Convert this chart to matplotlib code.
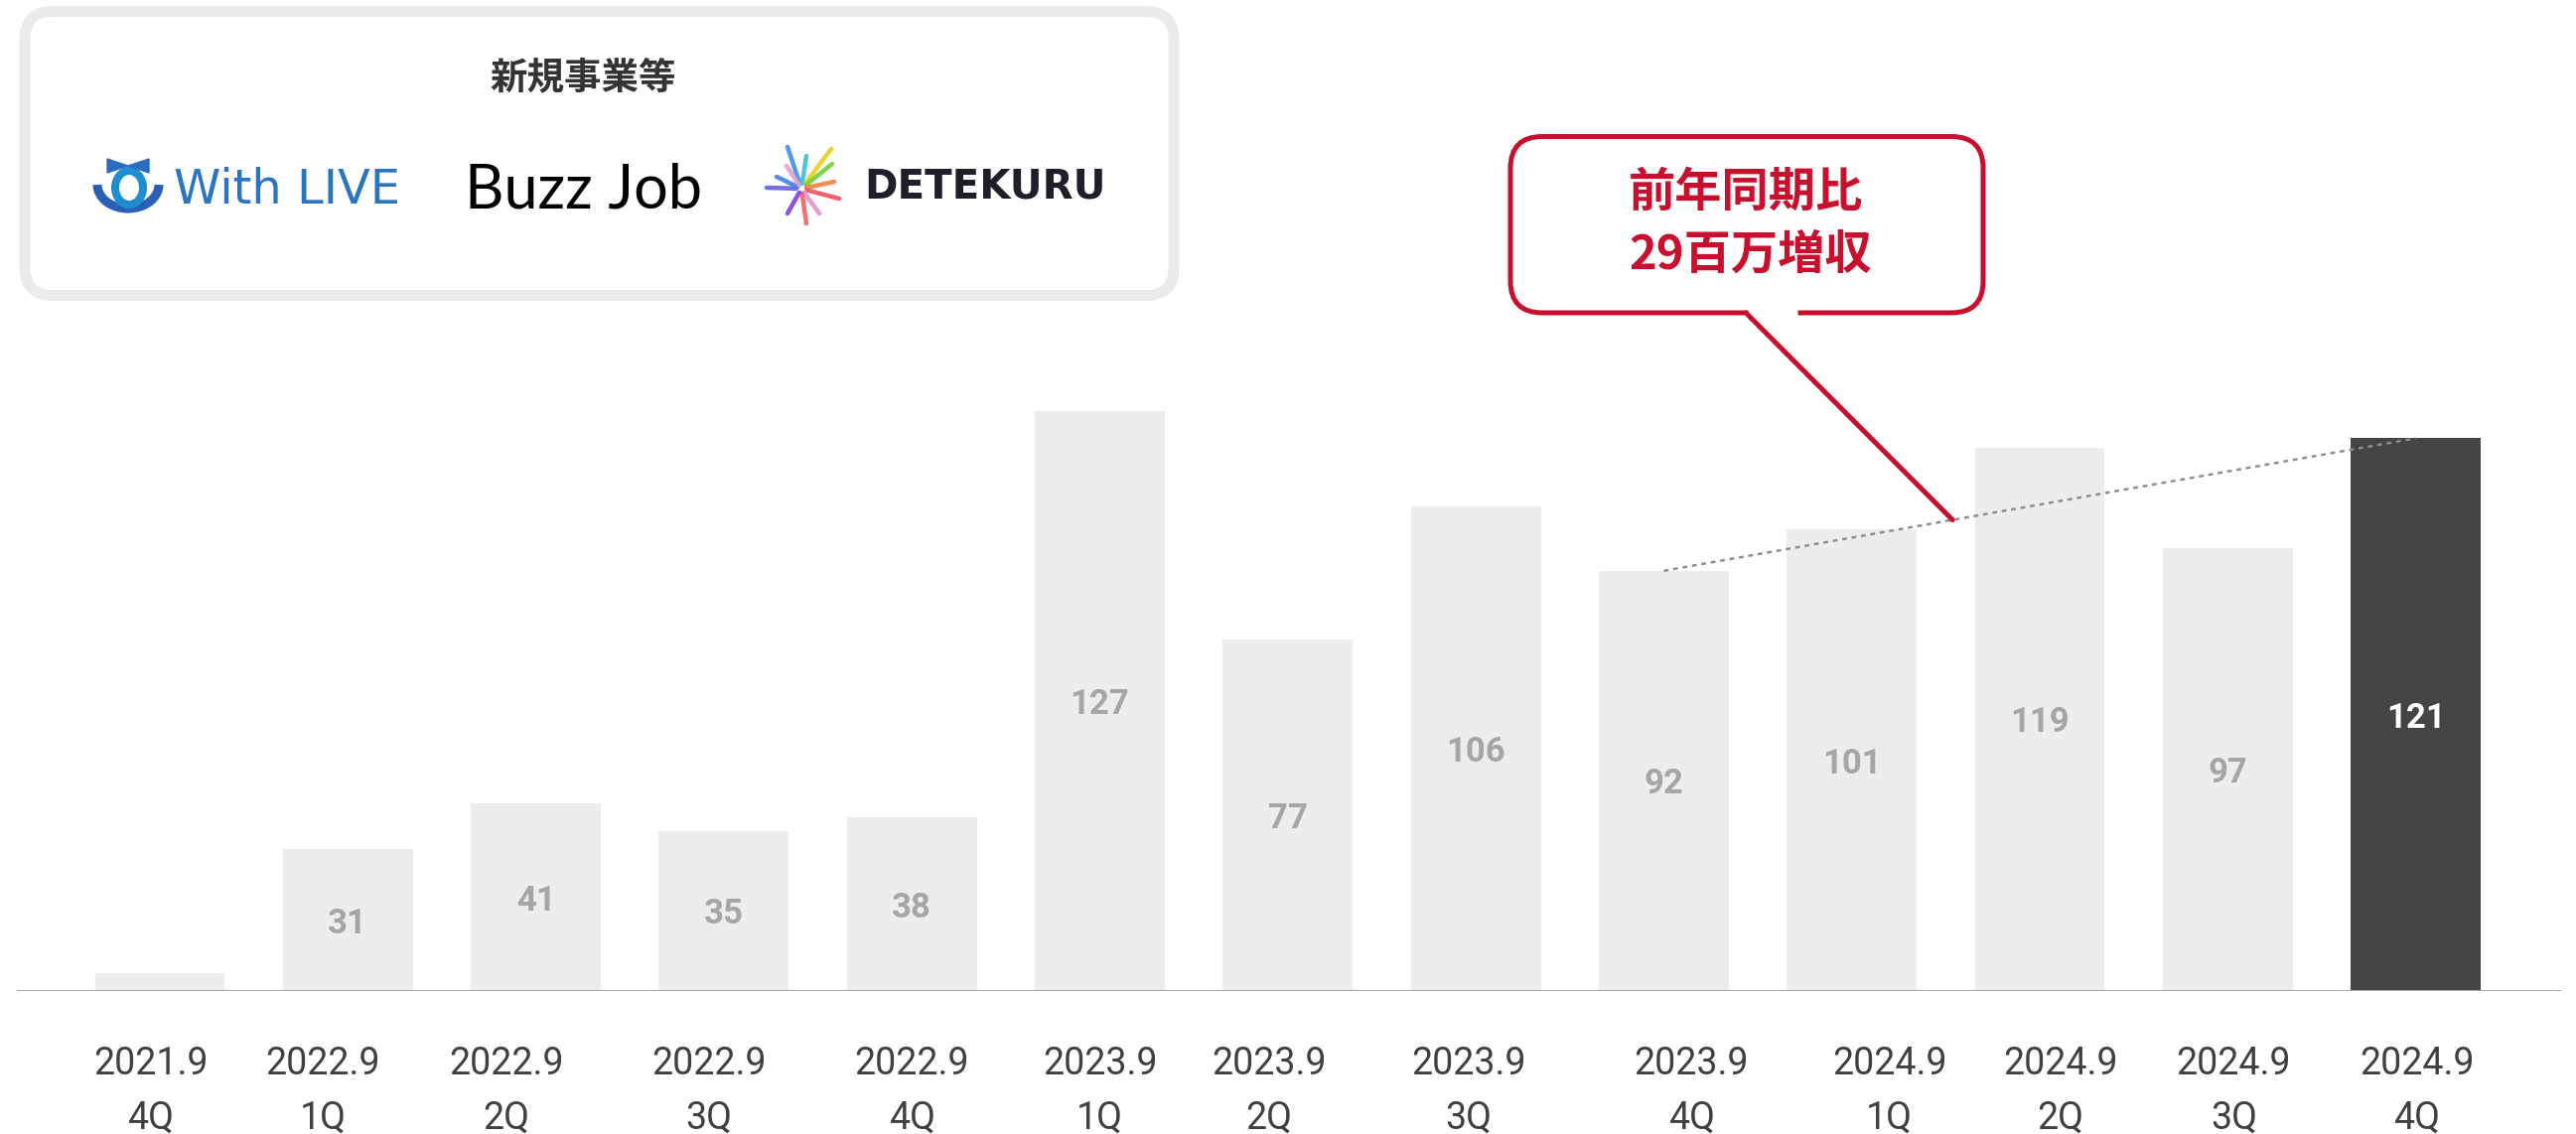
import matplotlib
matplotlib.use("Agg")
import matplotlib.pyplot as plt
from matplotlib.patches import FancyBboxPatch, Ellipse, Arc, Polygon
import numpy as np

# ---------------- data ----------------
periods = ["2021.9", "2022.9", "2022.9", "2022.9", "2022.9", "2023.9", "2023.9",
           "2023.9", "2023.9", "2024.9", "2024.9", "2024.9", "2024.9"]
quarters = ["4Q", "1Q", "2Q", "3Q", "4Q", "1Q", "2Q", "3Q", "4Q", "1Q", "2Q", "3Q", "4Q"]
values = [4, 31, 41, 35, 38, 127, 77, 106, 92, 101, 119, 97, 121]
value_labels = ["", "31", "41", "35", "38", "127", "77", "106", "92", "101", "119", "97", "121"]
highlight_index = 12
trend_from, trend_to = 8, 12
callout_lines = ["前年同期比", "29百万増収"]
legend_title = "新規事業等"
brand_names = ["With LIVE", "Buzz Job", "DETEKURU"]

# ---------------- style ----------------
W, H, DPI = 2594, 1142, 100
PT = 72.0 / DPI                       # points per pixel
tick_nudge_px = [-9, -25, -30, -15, 0, 0, -19, -7, 28, 38, 21, 6, 1]
RED = "#c8102e"
CJK = ["Noto Sans CJK JP", "DejaVu Sans"]

fig = plt.figure(figsize=(W / DPI, H / DPI), dpi=DPI, facecolor="white")

# main chart axes (baseline at 998 px from top)
base_px = 998
px_per_unit = 4.6
spacing, x0 = 189.3, 161.0
ax = fig.add_axes([0, (H - base_px) / H, 1, base_px / H])
ax.set_ylim(0, base_px / px_per_unit)
ax.set_xlim(-x0 / spacing, (W - x0) / spacing)
ax.axis("off")

xs = np.arange(len(values))
colors = ["#ededed"] * len(values)
colors[highlight_index] = "#444444"
ax.bar(xs, values, width=0.692, color=colors, zorder=1)
ax.axhline(0, xmin=18 / W, xmax=2577 / W, color="#a6a6a6", lw=3 * PT, zorder=2)

for i, (v, lab) in enumerate(zip(values, value_labels)):
    if not lab:
        continue
    ax.annotate(lab, xy=(i, v / 2), xytext=(0, -13 * PT), textcoords="offset points",
                ha="center", va="baseline", fontsize=25, fontweight="bold",
                family="Roboto",
                color="white" if i == highlight_index else "#a6a6a6", zorder=4)

for i, (p, q) in enumerate(zip(periods, quarters)):
    dx = tick_nudge_px[i] * PT
    ax.annotate(p, xy=(i, 0), xytext=(dx, -84 * PT), textcoords="offset points",
                ha="center", va="baseline", fontsize=27, family="Roboto",
                color="#404040", annotation_clip=False)
    ax.annotate(q, xy=(i, 0), xytext=(dx, -139 * PT), textcoords="offset points",
                ha="center", va="baseline", fontsize=27, family="Roboto",
                color="#404040", annotation_clip=False)

# dotted year-over-year trend line
ax.plot([trend_from, trend_to], [values[trend_from], values[trend_to]],
        color="#8c8c8c", lw=2.4 * PT, dashes=(2.0, 2.0), zorder=3)

# ---------------- overlay in pixel coordinates ----------------
ov = fig.add_axes([0, 0, 1, 1], zorder=5)
ov.set_xlim(0, W)
ov.set_ylim(H, 0)
ov.axis("off")

# legend / brand box
ov.add_patch(FancyBboxPatch((25, 11.5), 1157, 286,
                            boxstyle="round,pad=0,rounding_size=28",
                            fc="white", ec="#ebebeb", lw=11 * PT))
ov.text(587, 78, legend_title, ha="center", va="center", fontsize=27,
        fontweight="bold", family=CJK, color="#333333")

# With LIVE icon
ov.add_patch(Arc((129, 186), 62, 48, theta1=0, theta2=180, color="#2a5fb5", lw=9 * PT))
ov.add_patch(Ellipse((130, 189), 28, 34, fill=False, ec="#1f8ed0", lw=8 * PT))
ov.add_patch(Polygon([(108, 160), (129, 167), (108, 174)], closed=True, color="#2a6cc0"))
ov.add_patch(Polygon([(150, 160), (129, 167), (150, 174)], closed=True, color="#2a6cc0"))
ov.text(175, 205, brand_names[0], ha="left", va="baseline", fontsize=34.5,
        family="DejaVu Sans", color="#2a74c4")

# Buzz Job
ov.text(468, 209, brand_names[1], ha="left", va="baseline", fontsize=44,
        family="Lato", color="black")

# DETEKURU burst icon + name
cx, cy = 807, 190
burst = [((793, 148), "#3b8fe8"), ((812, 157), "#38c0d8"), ((837, 150), "#e8d020"),
         ((838, 165), "#70d040"), ((840, 183), "#f08040"), ((845, 200), "#f05060"),
         ((825, 215), "#e890d0"), ((812, 225), "#f06060"), ((793, 215), "#8040e0"),
         ((772, 189), "#6060e0"), ((782, 178), "#4080e8"), ((792, 167), "#e0a0d0")]
for (ex, ey), c in burst:
    ov.plot([cx + (ex - cx) * 0.15, ex], [cy + (ey - cy) * 0.15, ey], color=c,
            lw=4.5 * PT, solid_capstyle="round", alpha=0.9)
ov.text(870, 200, brand_names[2], ha="left", va="baseline", fontsize=29,
        fontweight="bold", family="DejaVu Sans", color="#1f1f29")

# callout box
ov.add_patch(FancyBboxPatch((1521, 137.5), 476, 177.5,
                            boxstyle="round,pad=0,rounding_size=32",
                            fc="white", ec=RED, lw=5 * PT, zorder=3))
ov.plot([1760, 1810], [315, 315], color="white", lw=9 * PT,
        solid_capstyle="butt", zorder=4)
frac = 0.384
tip_x = trend_from + frac * (trend_to - trend_from)
tip_y = values[trend_from] + frac * (values[trend_to] - values[trend_from])
tx, ty = ov.transData.inverted().transform(ax.transData.transform((tip_x, tip_y)))
ov.plot([1758, tx], [315, ty], color=RED, lw=5 * PT, solid_capstyle="round", zorder=5)
ov.text(1640, 194, callout_lines[0], ha="left", va="center", fontsize=34,
        fontweight="bold", family=CJK, color=RED, zorder=6)
ov.text(1640, 257, callout_lines[1], ha="left", va="center", fontsize=34,
        fontweight="bold", family=CJK, color=RED, zorder=6)

fig.savefig("out.png", dpi=DPI, facecolor="white")
